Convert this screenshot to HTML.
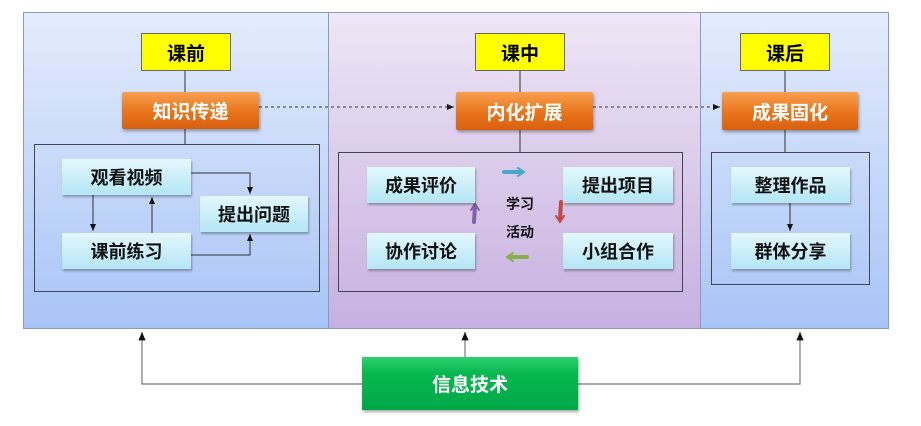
<!DOCTYPE html>
<html><head><meta charset="utf-8"><style>
body{margin:0;width:921px;height:426px;background:#fff;position:relative;overflow:hidden;font-family:"Liberation Sans","Noto Sans CJK SC",sans-serif;font-weight:bold}
.a{position:absolute;box-sizing:border-box}
.p{border:1px solid #8a9ac0}
.y{background:#ffff00;border:1px solid #666;display:flex;align-items:center;justify-content:center;font-size:19px;color:#000}
.o{background:linear-gradient(#f8a050,#e8741a 55%,#d86010);border-radius:2px;display:flex;align-items:center;justify-content:center;font-size:19px;color:#fff;box-shadow:1px 2px 3px rgba(0,0,0,.35)}
.b{background:linear-gradient(#e4f8fc,#b4e6f6);display:flex;align-items:center;justify-content:center;font-size:18px;color:#111;box-shadow:1px 2px 2px rgba(0,0,0,.3)}
.in{border:1px solid #445}
</style></head><body>
<div class="a p" style="left:23px;top:12px;width:306px;height:317px;background:linear-gradient(#e4ecfc,#a8c4f6)"></div>
<div class="a p" style="left:328px;top:12px;width:373px;height:317px;background:linear-gradient(#efe6f6,#c6b0e0)"></div>
<div class="a p" style="left:700px;top:12px;width:189px;height:317px;background:linear-gradient(#e4ecfc,#a8c4f6)"></div>

<svg class="a" style="left:0;top:0" width="921" height="426">
<defs><marker id="m" markerWidth="8" markerHeight="8" refX="7" refY="4" orient="auto"><path d="M0,1L7,4L0,7z" fill="#111"/></marker></defs>
<g stroke="#333" stroke-width="1" fill="none">
<line x1="185" y1="70" x2="185" y2="92"/><line x1="185" y1="129" x2="185" y2="144"/>
<line x1="520" y1="70" x2="520" y2="92"/><line x1="520" y1="130" x2="520" y2="152"/>
<line x1="785" y1="70" x2="785" y2="92"/><line x1="785" y1="130" x2="785" y2="152"/>
<line x1="259" y1="107" x2="454" y2="107" stroke-dasharray="3,3" marker-end="url(#m)"/>
<line x1="593" y1="107" x2="720" y2="107" stroke-dasharray="3,3" marker-end="url(#m)"/>
<polyline points="191,173 250,173 250,194" marker-end="url(#m)"/>
<polyline points="191,255 250,255 250,234" marker-end="url(#m)"/>
<line x1="93" y1="195" x2="93" y2="231" marker-end="url(#m)"/>
<line x1="152" y1="233" x2="152" y2="197" marker-end="url(#m)"/>
<line x1="790" y1="203" x2="790" y2="231" marker-end="url(#m)"/>
</g>
<g stroke="#777" stroke-width="1.2" fill="none">
<polyline points="362,384 142,384 142,332" marker-end="url(#m)"/>
<polyline points="578,384 800,384 800,332" marker-end="url(#m)"/>
<line x1="465" y1="357" x2="465" y2="332" marker-end="url(#m)"/>
</g>
<g stroke-width="4" fill="none" stroke-linecap="round">
<path d="M504,172 L522,172" stroke="#4aa8c8"/><path d="M518,168 L524,172 L518,176" stroke="#4aa8c8" stroke-width="2"/>
<path d="M561,202 L560,220" stroke="#c84848"/><path d="M556,216 L560,222 L564,216" stroke="#c84848" stroke-width="2"/>
<path d="M527,257 L510,257" stroke="#88b048"/><path d="M513,253 L507,257 L513,261" stroke="#88b048" stroke-width="2"/>
<path d="M474,222 L475,206" stroke="#8060a8"/><path d="M471,210 L475,204 L479,210" stroke="#8060a8" stroke-width="2"/>
</g>
</svg>

<div class="a in" style="left:34px;top:144px;width:286px;height:148px"></div>
<div class="a in" style="left:338px;top:152px;width:345px;height:140px"></div>
<div class="a in" style="left:711px;top:152px;width:159px;height:133px"></div>

<div class="a y" style="left:141px;top:33px;width:90px;height:38px">课前</div>
<div class="a y" style="left:475px;top:33px;width:90px;height:38px">课中</div>
<div class="a y" style="left:740px;top:33px;width:90px;height:38px">课后</div>
<div class="a o" style="left:122px;top:92px;width:137px;height:37px">知识传递</div>
<div class="a o" style="left:456px;top:92px;width:137px;height:38px">内化扩展</div>
<div class="a o" style="left:722px;top:92px;width:136px;height:38px">成果固化</div>

<div class="a b" style="left:62px;top:159px;width:129px;height:36px">观看视频</div>
<div class="a b" style="left:62px;top:233px;width:129px;height:36px">课前练习</div>
<div class="a b" style="left:200px;top:196px;width:108px;height:36px">提出问题</div>
<div class="a b" style="left:367px;top:167px;width:108px;height:36px">成果评价</div>
<div class="a b" style="left:563px;top:167px;width:110px;height:36px">提出项目</div>
<div class="a b" style="left:367px;top:233px;width:108px;height:36px">协作讨论</div>
<div class="a b" style="left:563px;top:233px;width:110px;height:36px">小组合作</div>
<div class="a" style="left:500px;top:190px;width:40px;font-size:14px;text-align:center;line-height:28px;color:#111">学习<br>活动</div>
<div class="a b" style="left:731px;top:167px;width:119px;height:36px">整理作品</div>
<div class="a b" style="left:731px;top:233px;width:119px;height:36px">群体分享</div>

<div class="a" style="left:362px;top:357px;width:216px;height:53px;background:linear-gradient(#30d070,#08b850 30%,#00a848);display:flex;align-items:center;justify-content:center;color:#fff;font-size:19px;box-shadow:1px 2px 3px rgba(0,0,0,.35)">信息技术</div>
</body></html>
